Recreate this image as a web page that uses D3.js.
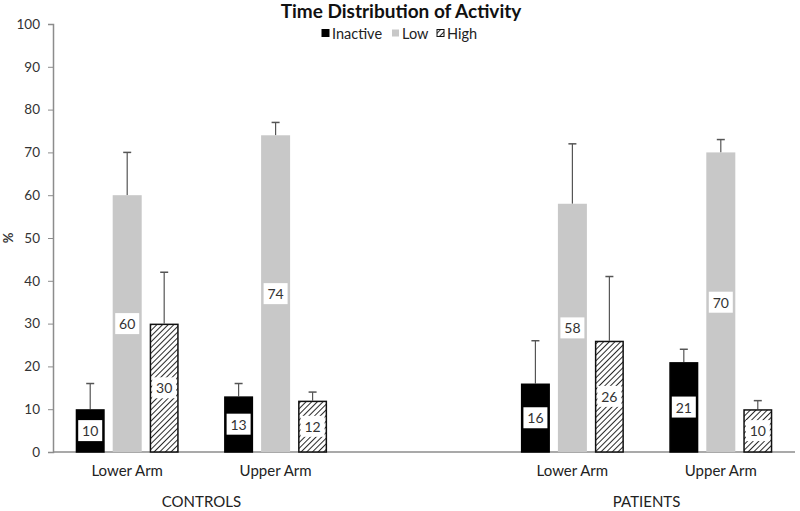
<!DOCTYPE html>
<html><head><meta charset="utf-8">
<script src="https://cdn.jsdelivr.net/npm/d3@7"></script>
<style>body{margin:0;background:#fff}svg{display:block;font-family:Lato,"Open Sans",sans-serif}</style>
</head><body><svg id="c" width="800" height="511"></svg>
<script>
const slots = ["C-Lower","C-Upper","gap","P-Lower","P-Upper"];
const slotLabels = ["Lower Arm","Upper Arm","","Lower Arm","Upper Arm"];
const groups = [{name:"CONTROLS", slots:["C-Lower","C-Upper"]},{name:"PATIENTS", slots:["P-Lower","P-Upper"]}];
const series = ["Inactive","Low","High"];
const inactive = [10,13,null,16,21];
const low = [60,74,null,58,70];
const high = [30,12,null,26,10];
const inactiveErr = [6,3,null,10,3];
const lowErr = [10,3,null,14,3];
const highErr = [12,2,null,15,2];
const yTicks = [0,10,20,30,40,50,60,70,80,90,100];

const vals = {Inactive:inactive, Low:low, High:high};
const errs = {Inactive:inactiveErr, Low:lowErr, High:highErr};

const svg = d3.select("#c");
const defs = svg.append("defs");
const pat = defs.append("pattern").attr("id","hatch").attr("patternUnits","userSpaceOnUse")
  .attr("width",4).attr("height",4).attr("patternTransform","rotate(45)");
pat.append("rect").attr("width",4).attr("height",4).attr("fill","#fff");
pat.append("line").attr("x1",0).attr("y1",0).attr("x2",0).attr("y2",4).attr("stroke","#111").attr("stroke-width",1.8);

const x0 = d3.scaleBand().domain(slots).range([53,795]);
const x1 = d3.scaleBand().domain(series).range([0,x0.bandwidth()]).paddingInner(0.216).paddingOuter(0.614);
const y = d3.scaleLinear().domain([0,100]).range([452,24]);

const fillOf = {Inactive:"#000", Low:"#c8c8c8", High:"url(#hatch)"};
const strokeOf = {Inactive:"#000", Low:"none", High:"#111"};

// Axes
const yAxis = svg.append("g").attr("transform","translate(53,0)")
  .call(d3.axisLeft(y).tickValues(yTicks).tickSize(5).tickPadding(8));
yAxis.select(".domain").attr("stroke","#8c8c8c").attr("stroke-width",1.5);
yAxis.selectAll(".tick line").attr("stroke","#8c8c8c");
yAxis.selectAll("text").attr("font-size",13.5).attr("fill","#333").attr("font-family","Lato,sans-serif");

svg.append("line").attr("x1",53).attr("x2",795).attr("y1",y(0)).attr("y2",y(0))
  .attr("stroke","#8c8c8c").attr("stroke-width",1.5);

// Bars
const data = [];
slots.forEach((s,i)=>{ series.forEach(k=>{ if(vals[k][i]!=null) data.push({slot:s, key:k, v:vals[k][i], e:errs[k][i]}); }); });

const g = svg.append("g");
// error bars
data.forEach(d=>{
  const cx = x0(d.slot)+x1(d.key)+x1.bandwidth()/2;
  g.append("line").attr("x1",cx).attr("x2",cx).attr("y1",y(d.v)).attr("y2",y(d.v+d.e)).attr("stroke","#555").attr("stroke-width",1.2);
  g.append("line").attr("x1",cx-4).attr("x2",cx+4).attr("y1",y(d.v+d.e)).attr("y2",y(d.v+d.e)).attr("stroke","#555").attr("stroke-width",1.5);
});
g.selectAll("rect.bar").data(data).join("rect").attr("class","bar")
  .attr("x",d=>x0(d.slot)+x1(d.key)+(d.key==="Low"?0:0.75))
  .attr("width",d=>x1.bandwidth()-(d.key==="Low"?0:1.5))
  .attr("y",d=>y(d.v)+(d.key==="Low"?0:0.75))
  .attr("height",d=>y(0)-y(d.v)-(d.key==="Low"?0:0.75))
  .attr("fill",d=>fillOf[d.key]).attr("stroke",d=>strokeOf[d.key]).attr("stroke-width",1.5);

// value labels
data.forEach(d=>{
  const cx = x0(d.slot)+x1(d.key)+x1.bandwidth()/2;
  const cy = y(d.v/2);
  g.append("rect").attr("x",cx-12).attr("y",cy-10.5).attr("width",24).attr("height",21).attr("fill","#fff");
  g.append("text").attr("x",cx).attr("y",cy).attr("text-anchor","middle").attr("dominant-baseline","central")
    .attr("font-size",14).attr("fill","#333").text(d.v);
});

// category labels
slots.forEach((s,i)=>{
  if(!slotLabels[i]) return;
  svg.append("text").attr("x",x0(s)+x0.bandwidth()/2).attr("y",476).attr("text-anchor","middle")
    .attr("font-size",15).attr("fill","#222").text(slotLabels[i]);
});
groups.forEach(gr=>{
  const a = x0(gr.slots[0])+x0.bandwidth()/2, b = x0(gr.slots[1])+x0.bandwidth()/2;
  svg.append("text").attr("x",(a+b)/2).attr("y",507).attr("text-anchor","middle")
    .attr("font-size",15).attr("fill","#222").text(gr.name);
});

// y title
svg.append("text").attr("transform",`translate(8,${y(50)}) rotate(-90)`).attr("text-anchor","middle")
  .attr("dominant-baseline","central").attr("font-size",13).attr("font-weight","bold").attr("fill","#333").text("%");

// title
svg.append("text").attr("x",401).attr("y",18).attr("text-anchor","middle").attr("font-size",19)
  .attr("font-weight","bold").attr("fill","#111").text("Time Distribution of Activity");

// legend
const legX = [322,392,437];
series.forEach((k,i)=>{
  svg.append("rect").attr("x",legX[i]).attr("y",29.5).attr("width",7).attr("height",7)
    .attr("fill",fillOf[k]).attr("stroke",strokeOf[k]).attr("stroke-width",1);
  svg.append("text").attr("x",legX[i]+10).attr("y",33).attr("dominant-baseline","central")
    .attr("font-size",14.5).attr("fill","#222").text(k);
});
</script></body></html>
